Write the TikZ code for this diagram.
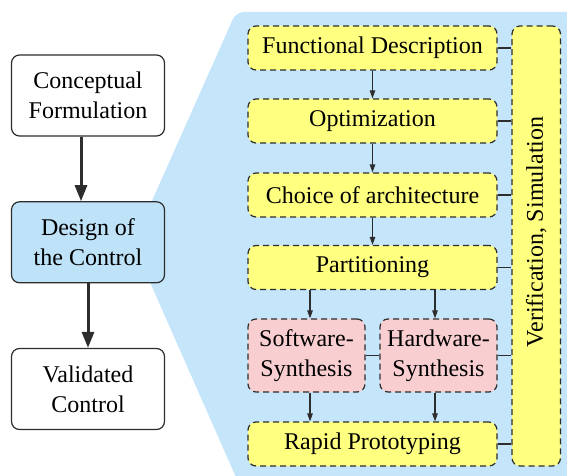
\documentclass[tikz,border=0pt]{standalone}
\usepackage{fontspec}
\setmainfont{Liberation Serif}
\newfontfamily\tmsfont{Liberation Serif}
\usetikzlibrary{arrows.meta}
\definecolor{bgblue}{RGB}{197,230,250}
\definecolor{boxblue}{RGB}{190,226,248}
\definecolor{yel}{RGB}{255,255,128}
\definecolor{pnk}{RGB}{249,206,208}
\definecolor{ln}{RGB}{45,45,45}
\tikzset{
  txt/.style={font=\tmsfont\fontsize{24}{30}\selectfont},
  solidbox/.style={draw=ln, line width=1.2pt, rounded corners=8pt, inner sep=0pt,
    align=center, minimum width=153pt, minimum height=81pt, txt},
  dbox/.style={draw=ln, line width=1.2pt, dash pattern=on 6pt off 4pt,
    rounded corners=8pt, inner sep=0pt, align=center, txt},
  ybox/.style={dbox, fill=yel, minimum width=249pt, minimum height=44pt},
  pbox/.style={dbox, fill=pnk, minimum width=117pt, minimum height=73pt},
  bigarr/.style={draw=ln, line width=3pt, -{Triangle[length=16pt,width=12pt]}},
  smallarr/.style={draw=ln, line width=1.2pt, -{Triangle[length=8pt,width=5.5pt]}},
  link/.style={draw=ln, line width=1.2pt},
}
\begin{document}
\begin{tikzpicture}[x=1pt,y=-1pt]
\useasboundingbox (0,0) rectangle (567,476);
% background wedge
\fill[bgblue, rounded corners=8pt] (139,230) -- (236,12) -- (590,12) -- (590,500) -- (246,500) -- (138,255) -- cycle;

% left column
\node[solidbox, fill=white] (cf) at (88,95.5) {Conceptual\\Formulation};
\node[solidbox, fill=boxblue] (dc) at (88,242.3) {Design of\\the Control};
\node[solidbox, fill=white] (vc) at (88,389) {Validated\\Control};

% right column
\node[ybox] (fd) at (372.5,48) {Functional Description};
\node[ybox] (op) at (372.5,121) {Optimization};
\node[ybox] (ch) at (372.5,195) {Choice of architecture};
\node[ybox] (pa) at (372.5,267.5) {Partitioning};
\node[pbox] (sw) at (306.5,355.5) {Software-\\Synthesis};
\node[pbox] (hw) at (438.5,355.5) {Hardware-\\Synthesis};
\node[ybox] (rp) at (372.5,444) {Rapid Prototyping};
\node[dbox, fill=yel, minimum width=48.5pt, minimum height=440pt] (ve) at (536.25,246) {};
\node[rotate=90, txt] (vt) at (536.25,232) {Verification, Simulation};

% left arrows
\coordinate (a1s) at ([xshift=-7pt]cf.south);
\draw[bigarr] (a1s) -- (a1s |- dc.north);
\draw[bigarr] (dc.south) -- (vc.north);

% right arrows
\draw[smallarr] (fd) -- (op);
\draw[smallarr] (op) -- (ch);
\draw[smallarr] (ch) -- (pa);
\coordinate (swx) at ([xshift=3.5pt]sw.north);
\coordinate (hwx) at ([xshift=-3.5pt]hw.north);
\draw[smallarr] (swx |- pa.south) -- (swx);
\draw[smallarr] (hwx |- pa.south) -- (hwx);
\draw[smallarr] (swx |- sw.south) -- (swx |- rp.north);
\draw[smallarr] (hwx |- hw.south) -- (hwx |- rp.north);

% links to verification
\draw[link] (fd.east) -- (fd.east -| ve.west);
\draw[link] (op.east) -- (op.east -| ve.west);
\draw[link] (ch.east) -- (ch.east -| ve.west);
\draw[link] (pa.east) -- (pa.east -| ve.west);
\draw[link] (sw.east) -- (hw.west);
\draw[link] (hw.east) -- (hw.east -| ve.west);
\draw[link] (rp.east) -- (rp.east -| ve.west);
\end{tikzpicture}
\end{document}
